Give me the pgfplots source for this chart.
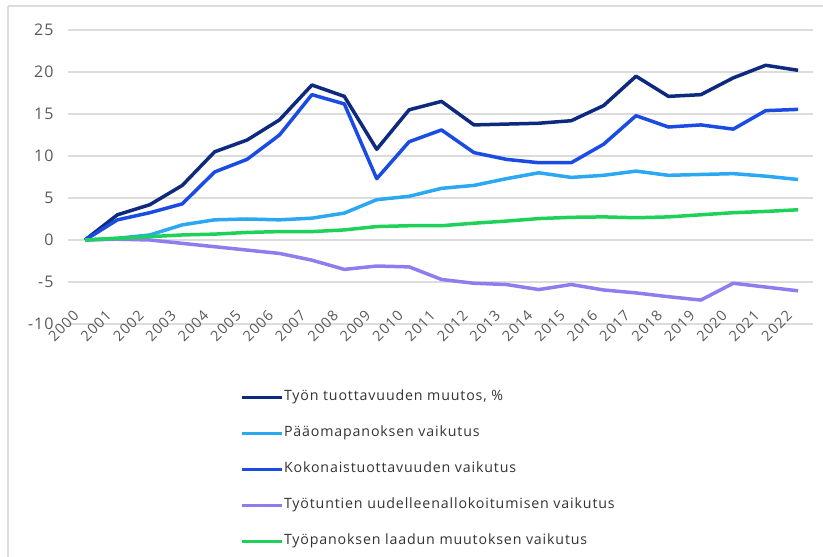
\documentclass[border=0pt]{standalone}
\usepackage{pgfplots}
\pgfplotsset{compat=1.18}
\usepackage{fontspec}
\setmainfont[LetterSpace=6]{Open Sans}
\definecolor{navy}{HTML}{0E2A7E}
\definecolor{kblue}{HTML}{1A4BE3}
\definecolor{lblue}{HTML}{2AA8F2}
\definecolor{lila}{HTML}{8C7EEE}
\definecolor{vgreen}{HTML}{1ED158}
\definecolor{gridc}{HTML}{DCDCDC}
\definecolor{tickc}{HTML}{595959}
\definecolor{legc}{HTML}{333333}
\begin{document}
\begin{tikzpicture}[x=1pt,y=1pt]
\path[use as bounding box] (0,0) rectangle (823,557);
\draw[gridc, line width=1.2pt] (8,551) -- (823,551);
\draw[gridc, line width=1.2pt] (8,551) -- (8,0);
\begin{axis}[
  at={(68pt,233pt)}, anchor=south west,
  scale only axis, width=745pt, height=294pt,
  xmin=-0.525, xmax=22.46, ymin=-10, ymax=25,
  axis line style={draw=none},
  tick style={draw=none},
  ytick={-10,-5,0,5,10,15,20,25},
  xtick={0,...,22},
  xticklabels={2000,2001,2002,2003,2004,2005,2006,2007,2008,2009,2010,2011,2012,2013,2014,2015,2016,2017,2018,2019,2020,2021,2022},
  ymajorgrids, grid style={gridc, line width=1.1pt},
  /pgf/number format/assume math mode=true,
  yticklabel style={font=\fontsize{16}{18}\selectfont, text=tickc, xshift=-11pt},
  xticklabel style={font=\fontsize{14.5}{16}\selectfont, text=tickc, rotate=45, anchor=east, xshift=5pt, yshift=14pt},
  legend cell align=left,
  legend style={draw=none, fill=none, at={(0.2309,-0.2245)}, anchor=north west,
    font=\fontsize{14.2}{16}\selectfont, text=legc, row sep=22pt, inner sep=0pt,
    nodes={inner sep=1pt, text height=9pt, text depth=3pt}},
  legend image code/.code={\draw[#1, line width=2.8pt] (0pt,0pt) -- (40pt,0pt);},
  every axis plot/.append style={line width=3.5pt, line join=round, mark=none},
]
\addplot[navy] coordinates {(0,0)(1,3.0)(2,4.2)(3,6.5)(4,10.5)(5,11.9)(6,14.3)(7,18.45)(8,17.1)(9,10.8)(10,15.5)(11,16.5)(12,13.7)(13,13.8)(14,13.9)(15,14.2)(16,16.0)(17,19.5)(18,17.1)(19,17.3)(20,19.3)(21,20.8)(22,20.2)};
\addlegendentry{Työn tuottavuuden muutos, \%}
\addplot[lblue] coordinates {(0,0)(1,0.2)(2,0.6)(3,1.8)(4,2.4)(5,2.5)(6,2.4)(7,2.6)(8,3.2)(9,4.8)(10,5.2)(11,6.15)(12,6.5)(13,7.3)(14,8.0)(15,7.45)(16,7.7)(17,8.2)(18,7.7)(19,7.8)(20,7.9)(21,7.6)(22,7.2)};
\addlegendentry{Pääomapanoksen vaikutus}
\addplot[kblue] coordinates {(0,0)(1,2.4)(2,3.25)(3,4.3)(4,8.1)(5,9.6)(6,12.5)(7,17.3)(8,16.2)(9,7.3)(10,11.7)(11,13.1)(12,10.4)(13,9.6)(14,9.2)(15,9.2)(16,11.4)(17,14.8)(18,13.45)(19,13.7)(20,13.2)(21,15.4)(22,15.55)};
\addlegendentry{Kokonaistuottavuuden vaikutus}
\addplot[lila] coordinates {(0,0)(1,0.1)(2,0.0)(3,-0.4)(4,-0.8)(5,-1.2)(6,-1.6)(7,-2.4)(8,-3.5)(9,-3.1)(10,-3.2)(11,-4.7)(12,-5.15)(13,-5.3)(14,-5.9)(15,-5.3)(16,-5.95)(17,-6.3)(18,-6.75)(19,-7.15)(20,-5.15)(21,-5.6)(22,-6.05)};
\addlegendentry{Työtuntien uudelleenallokoitumisen vaikutus}
\addplot[vgreen] coordinates {(0,0)(1,0.2)(2,0.4)(3,0.6)(4,0.7)(5,0.9)(6,1.0)(7,1.0)(8,1.2)(9,1.6)(10,1.7)(11,1.7)(12,2.0)(13,2.25)(14,2.55)(15,2.7)(16,2.75)(17,2.65)(18,2.75)(19,3.0)(20,3.25)(21,3.4)(22,3.6)};
\addlegendentry{Työpanoksen laadun muutoksen vaikutus}
\end{axis}
\end{tikzpicture}
\end{document}
